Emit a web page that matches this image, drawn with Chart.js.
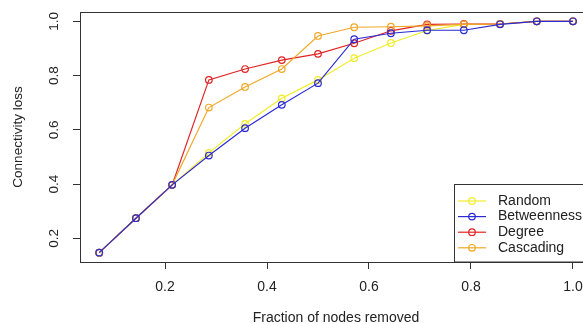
<!DOCTYPE html>
<html><head><meta charset="utf-8">
<style>
html,body{margin:0;padding:0;background:#fff;overflow:hidden;width:583px;height:324px}
canvas{display:block}
</style>
<script src="https://cdn.jsdelivr.net/npm/chart.js@4.4.1/dist/chart.umd.min.js"></script>
</head><body>
<canvas id="c" width="600" height="324" style="width:600px;height:324px"></canvas>
<script>
// ---- data ----
const fractions = [0.071, 0.143, 0.214, 0.286, 0.357, 0.429, 0.500, 0.571, 0.643, 0.714, 0.786, 0.857, 0.929, 1.000];
const randomLoss      = [0.147, 0.274, 0.397, 0.515, 0.622, 0.716, 0.784, 0.864, 0.920, 0.966, 0.989, 0.990, 1.000, 1.000];
const betweennessLoss = [0.147, 0.274, 0.397, 0.505, 0.606, 0.692, 0.772, 0.934, 0.956, 0.967, 0.967, 0.989, 1.000, 1.000];
const degreeLoss      = [0.147, 0.274, 0.397, 0.784, 0.824, 0.857, 0.880, 0.919, 0.965, 0.989, 0.990, 0.990, 1.000, 1.000];
const cascadingLoss   = [0.147, 0.274, 0.397, 0.682, 0.758, 0.824, 0.946, 0.978, 0.980, 0.983, 0.989, 0.990, 1.000, 1.000];
const seriesNames = ['Random', 'Betweenness', 'Degree', 'Cascading'];
const xTickValues = [0.2, 0.4, 0.6, 0.8, 1.0];
const xTickLabels = ['0.2', '0.4', '0.6', '0.8', '1.0'];
const yTickValues = [0.2, 0.4, 0.6, 0.8, 1.0];
const yTickLabels = ['0.2', '0.4', '0.6', '0.8', '1.0'];
const xTitle = 'Fraction of nodes removed';
const yTitle = 'Connectivity loss';

const colors = ['#f2ec2a', '#2b2bd4', '#e02424', '#f0a828'];
const drawOrder = [3, 0, 2, 1];
const FONT = '"Liberation Sans", Arial, Helvetica, sans-serif';
const TEXT = '#222';

function pts(ys){ return fractions.map((x,i)=>({x:x, y:ys[i]})); }
const allSeries = [randomLoss, betweennessLoss, degreeLoss, cascadingLoss];

const datasets = allSeries.map((ys,i)=>({
  label: seriesNames[i],
  data: pts(ys),
  borderColor: colors[i],
  backgroundColor: 'rgba(0,0,0,0)',
  borderWidth: 1.2,
  pointRadius: 3.3,
  pointBorderWidth: 1.2,
  pointBorderColor: colors[i],
  pointBackgroundColor: 'rgba(0,0,0,0)',
  tension: 0,
  order: drawOrder[i]
}));

const decor = {
  id: 'decor',
  afterDraw(chart){
    const ctx = chart.ctx, a = chart.chartArea, ys = chart.scales.y;
    ctx.save();
    // plot box
    ctx.strokeStyle = '#333'; ctx.lineWidth = 1;
    ctx.strokeRect(Math.round(a.left)+0.5, Math.round(a.top)+0.5, Math.round(a.right-a.left), Math.round(a.bottom-a.top));
    // rotated y tick labels
    ctx.fillStyle = TEXT;
    ctx.font = '13.5px ' + FONT;
    ctx.textAlign = 'center'; ctx.textBaseline = 'middle';
    yTickValues.forEach((v,i)=>{
      const py = ys.getPixelForValue(v);
      ctx.save(); ctx.translate(54, py); ctx.rotate(-Math.PI/2);
      ctx.fillText(yTickLabels[i], 0, 0); ctx.restore();
    });
    // legend
    const lx = 454.5, ly = 184.5;
    ctx.fillStyle = '#fff';
    ctx.fillRect(lx, ly, 200, Math.round(a.bottom) - ly);
    ctx.strokeStyle = '#333';
    ctx.strokeRect(lx, ly, 200, Math.round(a.bottom) - ly);
    ctx.font = '14px ' + FONT;
    ctx.textAlign = 'left';
    seriesNames.forEach((n,i)=>{
      const y = 201 + i*15.6;
      ctx.strokeStyle = colors[i]; ctx.lineWidth = 1.2;
      ctx.beginPath(); ctx.moveTo(458, y); ctx.lineTo(486, y); ctx.stroke();
      ctx.beginPath(); ctx.arc(472, y, 3.3, 0, Math.PI*2); ctx.stroke();
      ctx.fillStyle = TEXT;
      ctx.fillText(n, 498, y);
    });
    ctx.restore();
  }
};

new Chart(document.getElementById('c'), {
  type: 'line',
  data: { datasets },
  plugins: [decor],
  options: {
    responsive: false,
    animation: false,
    events: [],
    layout: { padding: { left: 0, top: 12, right: 8, bottom: 0 } },
    plugins: { legend: { display: false }, tooltip: { enabled: false } },
    scales: {
      x: {
        type: 'linear', min: 0.0333, max: 1.0373,
        afterBuildTicks: s => { s.ticks = xTickValues.map(v=>({value:v})); },
        afterFit: s => { s.height = 62; },
        border: { display: false },
        grid: { drawOnChartArea: false, drawTicks: true, tickLength: 7, color: '#333', lineWidth: 1 },
        ticks: {
          padding: 10, color: TEXT, maxRotation: 0, autoSkip: false,
          font: { family: FONT, size: 14 },
          callback: (v) => { const i = xTickValues.findIndex(t=>Math.abs(t-v)<1e-6); return i>=0 ? xTickLabels[i] : ''; }
        },
        title: { display: true, text: xTitle, color: TEXT, font: { family: FONT, size: 14, lineHeight: '12px' }, padding: { top: 0, bottom: 0 } }
      },
      y: {
        type: 'linear', min: 0.1126, max: 1.0343,
        afterBuildTicks: s => { s.ticks = yTickValues.map(v=>({value:v})); },
        afterFit: s => { s.width = 80; },
        border: { display: false },
        grid: { drawOnChartArea: false, drawTicks: true, tickLength: 7, color: '#333', lineWidth: 1 },
        ticks: { display: false },
        title: { display: true, text: yTitle, color: TEXT, font: { family: FONT, size: 13.5, lineHeight: '13px' }, padding: { top: 12, bottom: 0 } }
      }
    }
  }
});
</script>
</body></html>
